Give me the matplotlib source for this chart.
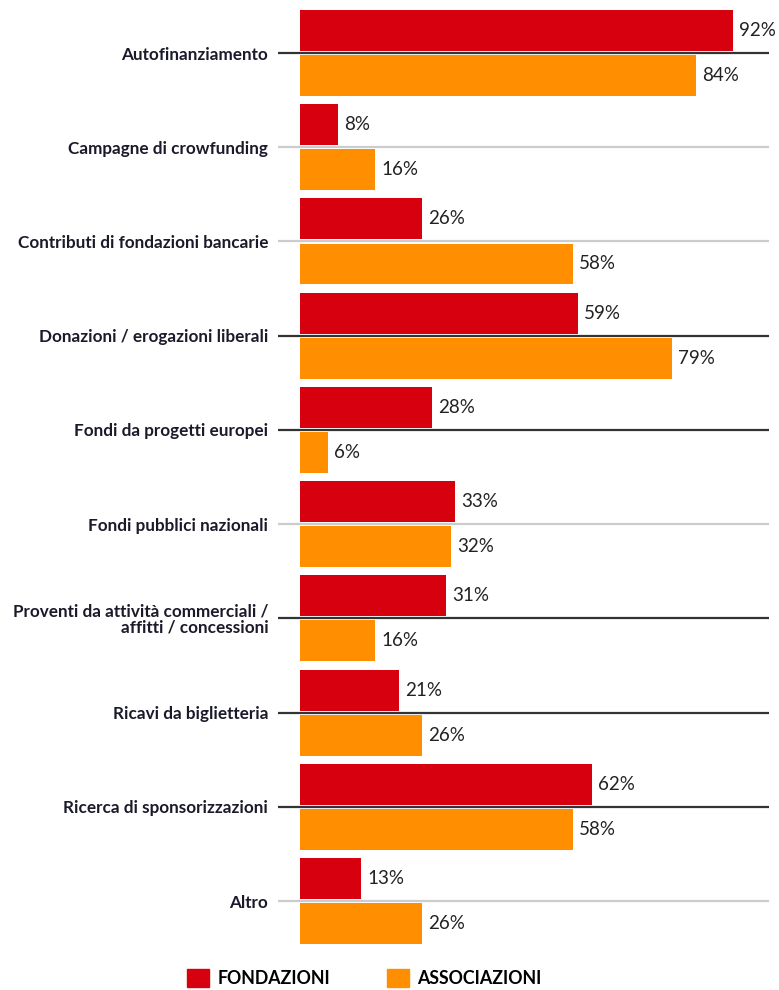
import numpy as np
import matplotlib
matplotlib.use("Agg")
import matplotlib.pyplot as plt
from matplotlib.patches import Patch

categories = [
    "Autofinanziamento",
    "Campagne di crowfunding",
    "Contributi di fondazioni bancarie",
    "Donazioni / erogazioni liberali",
    "Fondi da progetti europei",
    "Fondi pubblici nazionali",
    "Proventi da attività commerciali /\naffitti / concessioni",
    "Ricavi da biglietteria",
    "Ricerca di sponsorizzazioni",
    "Altro",
]
fondazioni = [92, 8, 26, 59, 28, 33, 31, 21, 62, 13]
associazioni = [84, 16, 58, 79, 6, 32, 16, 26, 58, 26]
line_dark = [True, False, False, True, True, False, True, True, True, False]

RED = "#d7000f"
ORANGE = "#ff8f00"

plt.rcParams["font.family"] = ["Lato", "DejaVu Sans"]

fig = plt.figure(figsize=(7.79, 9.90), dpi=100)
ax = fig.add_axes([278 / 779, 40 / 990, 501 / 779, 950 / 990])

y = np.arange(len(categories))
h = 0.435
off = 0.239

for i, dark in enumerate(line_dark):
    ax.plot([-4.67, 99.6], [i, i], color="#333333" if dark else "#cccccc",
            lw=1.6, zorder=1, solid_capstyle="butt")

ax.barh(y - off, fondazioni, height=h, color=RED, zorder=2)
ax.barh(y + off, associazioni, height=h, color=ORANGE, zorder=2)

for i in range(len(categories)):
    ax.text(fondazioni[i] + 1.3, y[i] - off, f"{fondazioni[i]}%",
            va="center", ha="left", fontsize=13.5, color="#222222")
    ax.text(associazioni[i] + 1.3, y[i] + off, f"{associazioni[i]}%",
            va="center", ha="left", fontsize=13.5, color="#222222")

ax.set_xlim(-4.67, 101.7)
ax.set_ylim(9.52, -0.563)
ax.set_yticks(y)
ax.set_yticklabels(categories, fontsize=12.3, fontweight="bold",
                   color="#1a1a2a", linespacing=1.0)
for lbl in ax.get_yticklabels():
    lbl.set_horizontalalignment("right")
ax.tick_params(axis="y", length=0, pad=7)
ax.set_xticks([])
for s in ax.spines.values():
    s.set_visible(False)

handles = [Patch(color=RED, label="FONDAZIONI"),
           Patch(color=ORANGE, label="ASSOCIAZIONI")]
fig.legend(handles=handles, loc="center", bbox_to_anchor=(0.468, 1 - 978 / 990),
           ncol=2, frameon=False, handlelength=1.2, handleheight=1.2,
           columnspacing=3.2, handletextpad=0.5,
           prop={"size": 12.8, "weight": "bold"})

fig.savefig("out.png", dpi=100)
